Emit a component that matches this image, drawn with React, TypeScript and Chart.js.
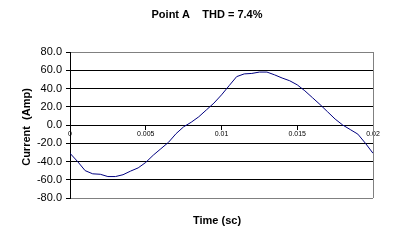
import React, { useEffect, useRef } from "react";
import { Chart, registerables } from "chart.js";

Chart.register(...registerables);

const times: number[] = [
  0, 0.0005, 0.001, 0.0015, 0.002, 0.0025, 0.003, 0.0035, 0.004, 0.0045,
  0.005, 0.0055, 0.006, 0.0065, 0.007, 0.0075, 0.008, 0.0085, 0.009, 0.0095,
  0.01, 0.0105, 0.011, 0.0115, 0.012, 0.0125, 0.013, 0.0135, 0.014, 0.0145,
  0.015, 0.0155, 0.016, 0.0165, 0.017, 0.0175, 0.018, 0.0185, 0.019, 0.0195, 0.02,
];
const current: number[] = [
  -31, -40, -50, -53.5, -54, -56.5, -56.5, -54.5, -50.5, -47,
  -41, -33, -26, -19, -9.5, -2, 3, 9, 16.5, 24,
  33, 43, 53, 56, 56.5, 58, 58, 55, 51.5, 48.5,
  44, 37.5, 30, 22.5, 14.5, 6.5, 0, -5, -10, -20, -31,
];
const xTicks: number[] = [0, 0.005, 0.01, 0.015, 0.02];
const yTicks: number[] = [-80, -60, -40, -20, 0, 20, 40, 60, 80];

const chartTitle = "Point A    THD = 7.4%";
const xTitle = "Time (sc)";
const yTitle = "Current  (Amp)";

const FONT = "'Liberation Sans', Arial, sans-serif";

export default function App() {
  const ref = useRef<HTMLCanvasElement | null>(null);

  useEffect(() => {
    document.body.style.margin = "0";
    const canvas = ref.current;
    if (!canvas) return;

    const overlay = {
      id: "overlay",
      afterDraw(chart: any) {
        const ctx = chart.ctx as CanvasRenderingContext2D;
        const a = chart.chartArea;
        ctx.save();
        // right border
        ctx.strokeStyle = "#808080";
        ctx.lineWidth = 1;
        ctx.beginPath();
        ctx.moveTo(Math.round(a.right) + 0.5, a.top);
        ctx.lineTo(Math.round(a.right) + 0.5, a.bottom);
        ctx.stroke();
        // titles
        ctx.fillStyle = "#000";
        ctx.textAlign = "center";
        ctx.textBaseline = "middle";
        ctx.font = `bold 11px ${FONT}`;
        ctx.fillText(chartTitle, 207, 15);
        ctx.fillText(xTitle, 217, 221);
        ctx.translate(27, 127);
        ctx.rotate(-Math.PI / 2);
        ctx.fillText(yTitle, 0, 0);
        ctx.restore();
      },
    };

    const chart = new Chart(canvas, {
      type: "line",
      data: {
        datasets: [
          {
            data: times.map((t, i) => ({ x: t, y: current[i] })),
            borderColor: "#000080",
            borderWidth: 1,
            pointRadius: 0,
            tension: 0,
            fill: false,
          },
        ],
      },
      options: {
        responsive: false,
        animation: false,
        devicePixelRatio: 1,
        layout: { padding: { top: 52, right: 41, bottom: 43, left: 0 } },
        plugins: {
          legend: { display: false },
          title: { display: false },
          tooltip: { enabled: false },
        },
        scales: {
          x: {
            type: "linear",
            position: { y: 0 } as any,
            min: 0,
            max: 0.02,
            afterBuildTicks: (scale: any) => {
              scale.ticks = xTicks.map((v) => ({ value: v }));
            },
            ticks: {
              color: "#000",
              font: { family: FONT, size: 7 },
              padding: 1,
              maxRotation: 0,
              autoSkip: false,
              callback: (v: any) => String(v),
            },
            grid: {
              drawOnChartArea: false,
              drawTicks: true,
              tickLength: 4,
              color: "#000",
            },
            border: { color: "#000", width: 1 },
          },
          y: {
            type: "linear",
            min: -80,
            max: 80,
            afterBuildTicks: (scale: any) => {
              scale.ticks = yTicks.map((v) => ({ value: v }));
            },
            afterFit: (scale: any) => {
              scale.width = 70;
            },
            ticks: {
              color: "#000",
              font: { family: FONT, size: 11 },
              padding: 4,
              callback: (v: any) => Number(v).toFixed(1),
            },
            grid: {
              color: (c: any) =>
                c.tick && Math.abs(c.tick.value) === 80 ? "#808080" : "#000",
              tickColor: "#000",
              tickLength: 4,
              lineWidth: 1,
            },
            border: { color: "#000", width: 1 },
          },
        },
      },
      plugins: [overlay],
    });

    return () => chart.destroy();
  }, []);

  return (
    <div style={{ width: 414, height: 241, background: "#fff" }}>
      <canvas ref={ref} width={414} height={241} />
    </div>
  );
}
